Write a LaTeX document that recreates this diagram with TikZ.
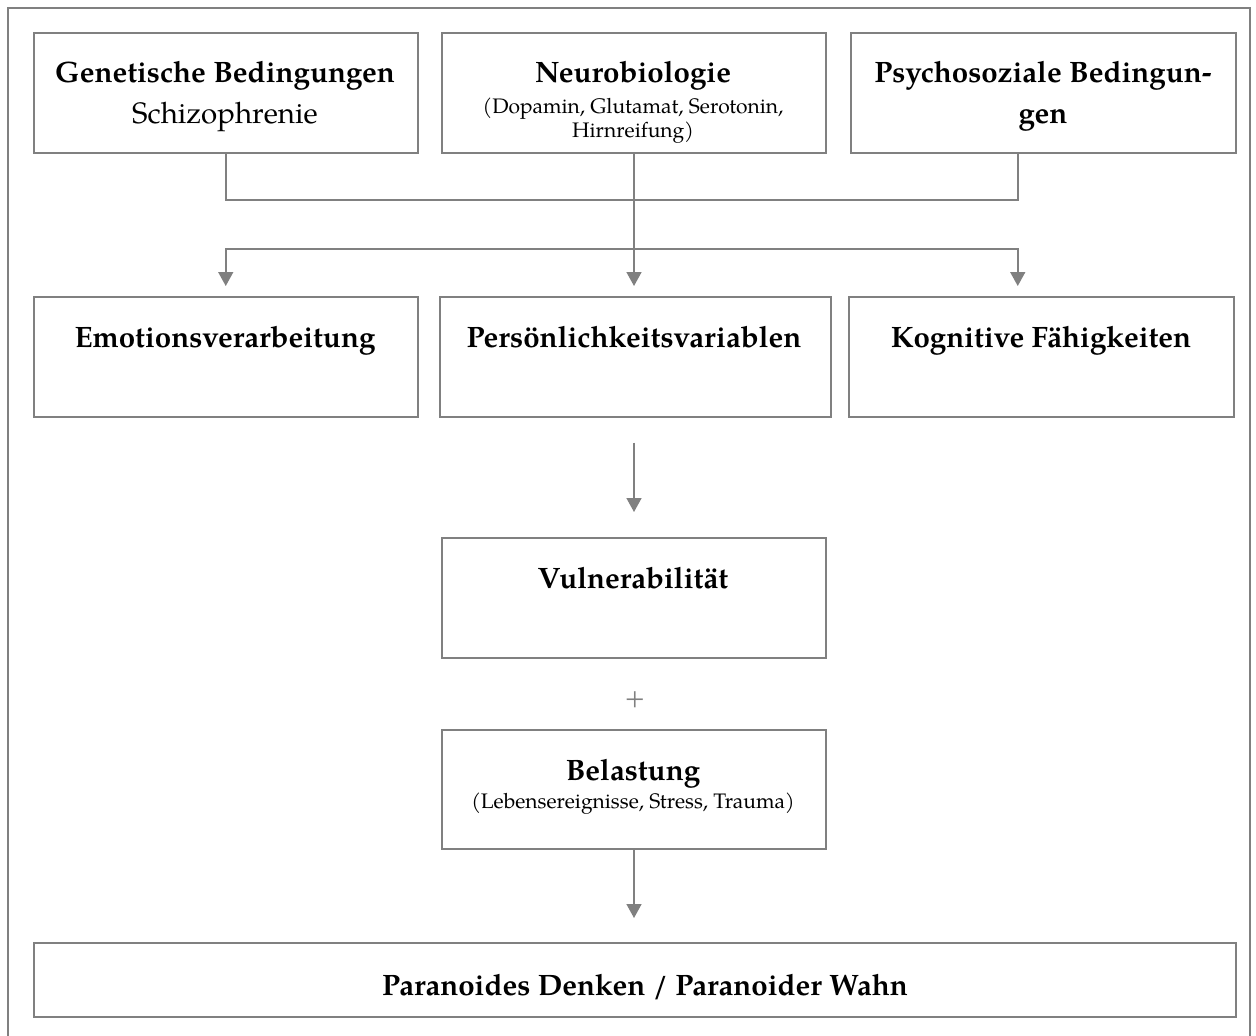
\documentclass[tikz,border=0pt]{standalone}
\usepackage{fontspec}
\setmainfont{TeX Gyre Pagella}
\usetikzlibrary{arrows.meta}
\definecolor{linegray}{RGB}{128,128,128}
\tikzset{
  box/.style={draw=linegray, line width=1.5pt, anchor=north west, inner sep=0pt},
  conn/.style={draw=linegray, line width=1.6pt},
  arr/.style={conn, -{Triangle[width=15pt,length=14pt]}},
  big/.style={anchor=base, inner sep=0pt, font=\fontsize{29.5}{34}\selectfont\bfseries},
  bigreg/.style={anchor=base, inner sep=0pt, font=\fontsize{29.5}{34}\selectfont},
  small/.style={anchor=base, inner sep=0pt, font=\fontsize{21}{24}\selectfont},
}
\begin{document}
\begin{tikzpicture}[x=1pt,y=-1pt]
\useasboundingbox (0,0) rectangle (1256,1036);
% outer frame (open at bottom)
\draw[linegray, line width=1.5pt] (8,1040) -- (8,8) -- (1250,8) -- (1250,1040);

% boxes
\node[box, minimum width=384pt, minimum height=120pt] (gen) at (33,32) {};
\node[box, minimum width=384pt, minimum height=120pt] (neu) at (441,32) {};
\node[box, minimum width=385pt, minimum height=120pt] (psy) at (850,32) {};
\node[box, minimum width=384pt, minimum height=120pt] (emo) at (33,296) {};
\node[box, minimum width=391pt, minimum height=120pt] (per) at (439,296) {};
\node[box, minimum width=385pt, minimum height=120pt] (kog) at (848,296) {};
\node[box, minimum width=384pt, minimum height=120pt] (vul) at (441,537) {};
\node[box, minimum width=384pt, minimum height=119pt] (bel) at (441,729) {};
\node[box, minimum width=1202pt, minimum height=74pt] (par) at (33,942) {};

% texts
\node[big] (gent1) at (225,82) {Genetische Bedingungen};
\node[bigreg] (gent2) at (225,123) {Schizophrenie};
\node[big] (neut1) at (633,82) {Neurobiologie};
\node[small] (neut2) at (633,113) {(Dopamin, Glutamat, Serotonin,};
\node[small] (neut3) at (633,137) {Hirnreifung)};
\node[big] (psyt1) at (1043,82) {Psychosoziale Bedingun-};
\node[big] (psyt2) at (1043,123) {gen};
\node[big] (emot) at (225,347) {Emotionsverarbeitung};
\node[big] (pert) at (634,347) {Persönlichkeitsvariablen};
\node[big] (kogt) at (1041,347) {Kognitive Fähigkeiten};
\node[big] (vult) at (633,588) {Vulnerabilität};
\node[text=linegray, anchor=base, inner sep=0pt, font=\fontsize{27}{30}\selectfont] (plus) at (635,706) {+};
\node[big] (belt1) at (633,780) {Belastung};
\node[small] (belt2) at (633,808) {(Lebensereignisse, Stress, Trauma)};
\node[big] (part) at (645,995) {Paranoides Denken / Paranoider Wahn};

% connectors
\coordinate (hub) at (634,200);
\coordinate (dist) at (634,249);
\draw[conn] (gen.south) |- (hub) -| ([xshift=-25.5pt]psy.south);
\draw[arr, shorten >=10pt] (neu.south -| hub) -- (per.north -| hub);
\draw[arr, shorten >=10pt] (dist) -| (emo.north);
\draw[arr, shorten >=10pt] (dist) -| ([xshift=-23.5pt]kog.north);
\draw[arr, shorten <=25pt, shorten >=25pt] (per.south -| hub) -- (vul.north -| hub);
\draw[arr, shorten >=24pt] (bel.south -| hub) -- (par.north -| hub);
\end{tikzpicture}
\end{document}
